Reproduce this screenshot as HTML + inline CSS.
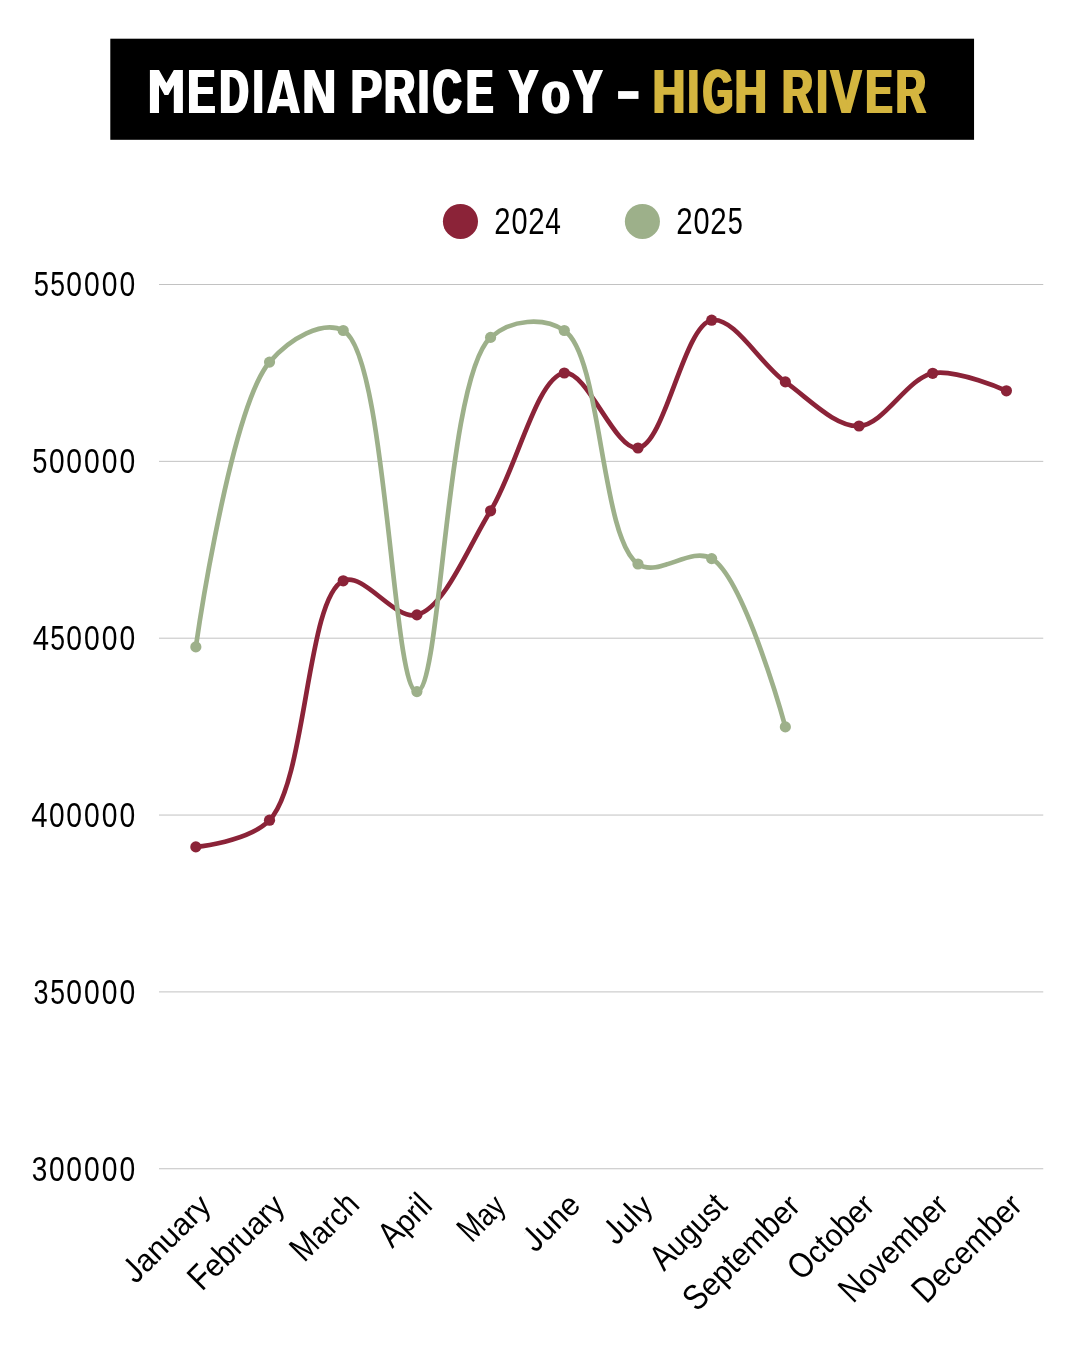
<!DOCTYPE html>
<html><head><meta charset="utf-8"><title>Median Price YoY - High River</title>
<style>html,body{margin:0;padding:0;background:#fff;}body{width:1080px;height:1350px;overflow:hidden;}svg{display:block;will-change:transform;}text{font-family:"Liberation Sans",sans-serif;}</style>
</head><body>
<svg width="1080" height="1350" viewBox="0 0 1080 1350">
<defs><filter id="idf" x="0" y="0" width="100%" height="100%" filterUnits="userSpaceOnUse" color-interpolation-filters="sRGB"><feOffset dx="0" dy="0"/></filter></defs>
<rect x="0" y="0" width="1080" height="1350" fill="#ffffff"/>
<g filter="url(#idf)">
<rect x="110.3" y="38.7" width="863.75" height="101.1" fill="#000000"/>
<path d="M149.9,113 L149.9,69.9 L159,69.9 L166.4,82.9 L173.8,69.9 L182.9,69.9 L182.9,113 L173.8,113 L173.8,85 L168.3,94.9 L164.5,94.9 L159,85 L159,113 Z" fill="#ffffff" fill-rule="evenodd"/>
<text transform="translate(186.34,113.00) scale(0.4089,0.6276)" font-size="100" font-weight="bold" fill="#ffffff">E</text>
<text transform="translate(187.84,113.00) scale(0.4089,0.6276)" font-size="100" font-weight="bold" fill="#ffffff">E</text>
<text transform="translate(189.34,113.00) scale(0.4089,0.6276)" font-size="100" font-weight="bold" fill="#ffffff">E</text>
<text transform="translate(218.21,113.00) scale(0.3984,0.6276)" font-size="100" font-weight="bold" fill="#ffffff">D</text>
<text transform="translate(219.71,113.00) scale(0.3984,0.6276)" font-size="100" font-weight="bold" fill="#ffffff">D</text>
<text transform="translate(221.21,113.00) scale(0.3984,0.6276)" font-size="100" font-weight="bold" fill="#ffffff">D</text>
<text transform="translate(250.56,113.00) scale(0.5544,0.6276)" font-size="100" font-weight="bold" fill="#ffffff">I</text>
<path d="M267.1,113 L278.3,69.9 L289,69.9 L300,113 L291,113 L289.2,106.25 L277.6,106.25 L275.8,113 Z M279.2,99 L283.55,80.8 L287.9,99 Z" fill="#ffffff" fill-rule="evenodd"/>
<text transform="translate(301.24,113.00) scale(0.4674,0.6276)" font-size="100" font-weight="bold" fill="#ffffff">N</text>
<text transform="translate(303.48,113.00) scale(0.4674,0.6276)" font-size="100" font-weight="bold" fill="#ffffff">N</text>
<text transform="translate(349.34,113.00) scale(0.4828,0.6276)" font-size="100" font-weight="bold" fill="#ffffff">P</text>
<text transform="translate(351.36,113.00) scale(0.4828,0.6276)" font-size="100" font-weight="bold" fill="#ffffff">P</text>
<text transform="translate(382.69,113.00) scale(0.4306,0.6276)" font-size="100" font-weight="bold" fill="#ffffff">R</text>
<text transform="translate(384.08,113.00) scale(0.4306,0.6276)" font-size="100" font-weight="bold" fill="#ffffff">R</text>
<text transform="translate(385.46,113.00) scale(0.4306,0.6276)" font-size="100" font-weight="bold" fill="#ffffff">R</text>
<text transform="translate(415.52,113.00) scale(0.5754,0.6276)" font-size="100" font-weight="bold" fill="#ffffff">I</text>
<text transform="translate(431.52,113.00) scale(0.3939,0.6276)" font-size="100" font-weight="bold" fill="#ffffff">C</text>
<text transform="translate(433.02,113.00) scale(0.3939,0.6276)" font-size="100" font-weight="bold" fill="#ffffff">C</text>
<text transform="translate(434.52,113.00) scale(0.3939,0.6276)" font-size="100" font-weight="bold" fill="#ffffff">C</text>
<text transform="translate(464.68,113.00) scale(0.4036,0.6276)" font-size="100" font-weight="bold" fill="#ffffff">E</text>
<text transform="translate(466.18,113.00) scale(0.4036,0.6276)" font-size="100" font-weight="bold" fill="#ffffff">E</text>
<text transform="translate(467.68,113.00) scale(0.4036,0.6276)" font-size="100" font-weight="bold" fill="#ffffff">E</text>
<text transform="translate(507.53,113.00) scale(0.4429,0.6276)" font-size="100" font-weight="bold" fill="#ffffff">Y</text>
<text transform="translate(508.82,113.00) scale(0.4429,0.6276)" font-size="100" font-weight="bold" fill="#ffffff">Y</text>
<text transform="translate(510.11,113.00) scale(0.4429,0.6276)" font-size="100" font-weight="bold" fill="#ffffff">Y</text>
<text transform="translate(540.32,113.10) scale(0.4692,0.5991)" font-size="100" font-weight="bold" fill="#ffffff">o</text>
<text transform="translate(542.54,113.10) scale(0.4692,0.5991)" font-size="100" font-weight="bold" fill="#ffffff">o</text>
<text transform="translate(571.83,113.00) scale(0.4388,0.6276)" font-size="100" font-weight="bold" fill="#ffffff">Y</text>
<text transform="translate(573.16,113.00) scale(0.4388,0.6276)" font-size="100" font-weight="bold" fill="#ffffff">Y</text>
<text transform="translate(574.48,113.00) scale(0.4388,0.6276)" font-size="100" font-weight="bold" fill="#ffffff">Y</text>
<rect x="618.10" y="91.10" width="20.40" height="7.80" fill="#ffffff"/>
<text transform="translate(651.57,113.00) scale(0.4494,0.6276)" font-size="100" font-weight="bold" fill="#D4B53F">H</text>
<text transform="translate(654.06,113.00) scale(0.4494,0.6276)" font-size="100" font-weight="bold" fill="#D4B53F">H</text>
<text transform="translate(685.37,113.00) scale(0.5825,0.6276)" font-size="100" font-weight="bold" fill="#D4B53F">I</text>
<text transform="translate(701.55,113.00) scale(0.3867,0.6276)" font-size="100" font-weight="bold" fill="#D4B53F">G</text>
<text transform="translate(703.05,113.00) scale(0.3867,0.6276)" font-size="100" font-weight="bold" fill="#D4B53F">G</text>
<text transform="translate(704.55,113.00) scale(0.3867,0.6276)" font-size="100" font-weight="bold" fill="#D4B53F">G</text>
<text transform="translate(733.50,113.00) scale(0.4449,0.6276)" font-size="100" font-weight="bold" fill="#D4B53F">H</text>
<text transform="translate(734.78,113.00) scale(0.4449,0.6276)" font-size="100" font-weight="bold" fill="#D4B53F">H</text>
<text transform="translate(736.06,113.00) scale(0.4449,0.6276)" font-size="100" font-weight="bold" fill="#D4B53F">H</text>
<text transform="translate(780.85,113.00) scale(0.4224,0.6276)" font-size="100" font-weight="bold" fill="#D4B53F">R</text>
<text transform="translate(782.29,113.00) scale(0.4224,0.6276)" font-size="100" font-weight="bold" fill="#D4B53F">R</text>
<text transform="translate(783.73,113.00) scale(0.4224,0.6276)" font-size="100" font-weight="bold" fill="#D4B53F">R</text>
<text transform="translate(814.07,113.00) scale(0.5825,0.6276)" font-size="100" font-weight="bold" fill="#D4B53F">I</text>
<text transform="translate(829.25,113.00) scale(0.4686,0.6276)" font-size="100" font-weight="bold" fill="#D4B53F">V</text>
<text transform="translate(831.47,113.00) scale(0.4686,0.6276)" font-size="100" font-weight="bold" fill="#D4B53F">V</text>
<text transform="translate(864.21,113.00) scale(0.3982,0.6276)" font-size="100" font-weight="bold" fill="#D4B53F">E</text>
<text transform="translate(865.71,113.00) scale(0.3982,0.6276)" font-size="100" font-weight="bold" fill="#D4B53F">E</text>
<text transform="translate(867.21,113.00) scale(0.3982,0.6276)" font-size="100" font-weight="bold" fill="#D4B53F">E</text>
<text transform="translate(894.39,113.00) scale(0.4163,0.6276)" font-size="100" font-weight="bold" fill="#D4B53F">R</text>
<text transform="translate(895.87,113.00) scale(0.4163,0.6276)" font-size="100" font-weight="bold" fill="#D4B53F">R</text>
<text transform="translate(897.36,113.00) scale(0.4163,0.6276)" font-size="100" font-weight="bold" fill="#D4B53F">R</text>
<circle cx="460.45" cy="221.45" r="17.55" fill="#8B2338"/>
<text transform="translate(494.34,234.25) scale(0.2923,0.3647)" font-size="100" fill="#000000">2</text>
<text transform="translate(511.44,234.25) scale(0.2890,0.3647)" font-size="100" fill="#000000">0</text>
<text transform="translate(528.33,234.25) scale(0.2945,0.3647)" font-size="100" fill="#000000">2</text>
<text transform="translate(545.27,234.25) scale(0.2812,0.3647)" font-size="100" fill="#000000">4</text>
<circle cx="642.4" cy="221.45" r="17.55" fill="#9DB08A"/>
<text transform="translate(676.33,234.25) scale(0.2945,0.3647)" font-size="100" fill="#000000">2</text>
<text transform="translate(693.44,234.25) scale(0.2890,0.3647)" font-size="100" fill="#000000">0</text>
<text transform="translate(710.33,234.25) scale(0.2945,0.3647)" font-size="100" fill="#000000">2</text>
<text transform="translate(727.81,234.25) scale(0.2716,0.3647)" font-size="100" fill="#000000">5</text>
<line x1="159.0" y1="284.5" x2="1043.25" y2="284.5" stroke="#c2c2c2" stroke-width="1"/>
<line x1="159.0" y1="461.35" x2="1043.25" y2="461.35" stroke="#c2c2c2" stroke-width="1"/>
<line x1="159.0" y1="638.2" x2="1043.25" y2="638.2" stroke="#c2c2c2" stroke-width="1"/>
<line x1="159.0" y1="815.05" x2="1043.25" y2="815.05" stroke="#c2c2c2" stroke-width="1"/>
<line x1="159.0" y1="991.9" x2="1043.25" y2="991.9" stroke="#c2c2c2" stroke-width="1"/>
<line x1="159.0" y1="1168.75" x2="1043.25" y2="1168.75" stroke="#c2c2c2" stroke-width="1"/>
<text transform="translate(33.81,295.85) scale(0.2737,0.3576)" font-size="100" fill="#000000">5</text>
<text transform="translate(50.24,295.85) scale(0.2653,0.3576)" font-size="100" fill="#000000">5</text>
<text transform="translate(66.37,295.85) scale(0.2827,0.3576)" font-size="100" fill="#000000">0</text>
<text transform="translate(84.07,295.85) scale(0.2827,0.3576)" font-size="100" fill="#000000">0</text>
<text transform="translate(101.82,295.85) scale(0.2827,0.3576)" font-size="100" fill="#000000">0</text>
<text transform="translate(119.57,295.85) scale(0.2827,0.3576)" font-size="100" fill="#000000">0</text>
<text transform="translate(32.21,472.85) scale(0.2737,0.3576)" font-size="100" fill="#000000">5</text>
<text transform="translate(48.88,472.85) scale(0.2806,0.3576)" font-size="100" fill="#000000">0</text>
<text transform="translate(66.37,472.85) scale(0.2827,0.3576)" font-size="100" fill="#000000">0</text>
<text transform="translate(84.07,472.85) scale(0.2827,0.3576)" font-size="100" fill="#000000">0</text>
<text transform="translate(101.82,472.85) scale(0.2827,0.3576)" font-size="100" fill="#000000">0</text>
<text transform="translate(119.57,472.85) scale(0.2827,0.3576)" font-size="100" fill="#000000">0</text>
<text transform="translate(32.64,649.85) scale(0.2931,0.3576)" font-size="100" fill="#000000">4</text>
<text transform="translate(50.24,649.85) scale(0.2653,0.3576)" font-size="100" fill="#000000">5</text>
<text transform="translate(66.37,649.85) scale(0.2827,0.3576)" font-size="100" fill="#000000">0</text>
<text transform="translate(84.07,649.85) scale(0.2827,0.3576)" font-size="100" fill="#000000">0</text>
<text transform="translate(101.82,649.85) scale(0.2827,0.3576)" font-size="100" fill="#000000">0</text>
<text transform="translate(119.57,649.85) scale(0.2827,0.3576)" font-size="100" fill="#000000">0</text>
<text transform="translate(31.24,826.85) scale(0.2931,0.3576)" font-size="100" fill="#000000">4</text>
<text transform="translate(48.88,826.85) scale(0.2806,0.3576)" font-size="100" fill="#000000">0</text>
<text transform="translate(66.37,826.85) scale(0.2827,0.3576)" font-size="100" fill="#000000">0</text>
<text transform="translate(84.07,826.85) scale(0.2827,0.3576)" font-size="100" fill="#000000">0</text>
<text transform="translate(101.82,826.85) scale(0.2827,0.3576)" font-size="100" fill="#000000">0</text>
<text transform="translate(119.57,826.85) scale(0.2827,0.3576)" font-size="100" fill="#000000">0</text>
<text transform="translate(33.39,1003.85) scale(0.2695,0.3576)" font-size="100" fill="#000000">3</text>
<text transform="translate(50.24,1003.85) scale(0.2653,0.3576)" font-size="100" fill="#000000">5</text>
<text transform="translate(66.37,1003.85) scale(0.2827,0.3576)" font-size="100" fill="#000000">0</text>
<text transform="translate(84.07,1003.85) scale(0.2827,0.3576)" font-size="100" fill="#000000">0</text>
<text transform="translate(101.82,1003.85) scale(0.2827,0.3576)" font-size="100" fill="#000000">0</text>
<text transform="translate(119.57,1003.85) scale(0.2827,0.3576)" font-size="100" fill="#000000">0</text>
<text transform="translate(31.75,1180.85) scale(0.2800,0.3576)" font-size="100" fill="#000000">3</text>
<text transform="translate(48.88,1180.85) scale(0.2806,0.3576)" font-size="100" fill="#000000">0</text>
<text transform="translate(66.37,1180.85) scale(0.2827,0.3576)" font-size="100" fill="#000000">0</text>
<text transform="translate(84.07,1180.85) scale(0.2827,0.3576)" font-size="100" fill="#000000">0</text>
<text transform="translate(101.82,1180.85) scale(0.2827,0.3576)" font-size="100" fill="#000000">0</text>
<text transform="translate(119.57,1180.85) scale(0.2827,0.3576)" font-size="100" fill="#000000">0</text>
<path d="M195.84,846.90C195.84,846.90,248.85,841.92,269.53,820.20C306.50,781.37,306.82,597.03,343.22,580.80C363.94,571.56,394.55,620.86,416.91,614.90C444.93,607.42,467.16,548.73,490.59,510.80C516.54,468.82,536.76,376.96,564.28,373.00C586.85,369.76,615.16,450.91,637.97,448.00C664.99,444.56,683.85,325.13,711.66,320.20C734.10,316.22,760.05,363.91,785.34,381.90C809.25,398.90,834.79,426.99,859.03,426.00C883.93,424.98,906.95,378.36,932.72,373.30C956.28,368.68,1006.41,390.80,1006.41,390.80" fill="none" stroke="#8B2338" stroke-width="4.7" stroke-linecap="round" stroke-linejoin="round"/>
<circle cx="195.84" cy="846.90" r="5.6" fill="#8B2338"/>
<circle cx="269.53" cy="820.20" r="5.6" fill="#8B2338"/>
<circle cx="343.22" cy="580.80" r="5.6" fill="#8B2338"/>
<circle cx="416.91" cy="614.90" r="5.6" fill="#8B2338"/>
<circle cx="490.59" cy="510.80" r="5.6" fill="#8B2338"/>
<circle cx="564.28" cy="373.00" r="5.6" fill="#8B2338"/>
<circle cx="637.97" cy="448.00" r="5.6" fill="#8B2338"/>
<circle cx="711.66" cy="320.20" r="5.6" fill="#8B2338"/>
<circle cx="785.34" cy="381.90" r="5.6" fill="#8B2338"/>
<circle cx="859.03" cy="426.00" r="5.6" fill="#8B2338"/>
<circle cx="932.72" cy="373.30" r="5.6" fill="#8B2338"/>
<circle cx="1006.41" cy="390.80" r="5.6" fill="#8B2338"/>
<path d="M195.84,646.90C195.84,646.90,230.19,407.92,269.53,362.10C290.07,338.18,322.82,319.83,343.22,330.50C386.94,353.38,392.23,691.55,416.91,691.60C441.36,691.65,445.55,377.67,490.59,337.40C510.97,319.19,543.64,316.80,564.28,330.50C601.82,355.41,600.40,538.52,637.97,564.00C658.61,578.00,690.58,545.90,711.66,558.60C744.89,578.63,785.34,726.90,785.34,726.90" fill="none" stroke="#9DB08A" stroke-width="4.7" stroke-linecap="round" stroke-linejoin="round"/>
<circle cx="195.84" cy="646.90" r="5.6" fill="#9DB08A"/>
<circle cx="269.53" cy="362.10" r="5.6" fill="#9DB08A"/>
<circle cx="343.22" cy="330.50" r="5.6" fill="#9DB08A"/>
<circle cx="416.91" cy="691.60" r="5.6" fill="#9DB08A"/>
<circle cx="490.59" cy="337.40" r="5.6" fill="#9DB08A"/>
<circle cx="564.28" cy="330.50" r="5.6" fill="#9DB08A"/>
<circle cx="637.97" cy="564.00" r="5.6" fill="#9DB08A"/>
<circle cx="711.66" cy="558.60" r="5.6" fill="#9DB08A"/>
<circle cx="785.34" cy="726.90" r="5.6" fill="#9DB08A"/>
<g transform="translate(135.76,1284.53) rotate(-45)">
<text transform="translate(-0.46,0) scale(0.3063,0.3578)" font-size="100" fill="#000000">J</text>
<rect transform="translate(-0.46,0) scale(0.3063,0.3578)" x="15" y="-72" width="18.1" height="11.6" fill="#ffffff"/>
<text transform="translate(14.86,0) scale(0.3063,0.3140)" font-size="100" fill="#000000">a</text>
<text transform="translate(31.90,0) scale(0.3063,0.3140)" font-size="100" fill="#000000">n</text>
<text transform="translate(48.93,0) scale(0.3063,0.3140)" font-size="100" fill="#000000">u</text>
<text transform="translate(65.97,0) scale(0.3063,0.3140)" font-size="100" fill="#000000">a</text>
<text transform="translate(83.01,0) scale(0.3063,0.3140)" font-size="100" fill="#000000">r</text>
<text transform="translate(93.21,0) scale(0.3063,0.3140)" font-size="100" fill="#000000">y</text>
</g>
<g transform="translate(203.72,1290.26) rotate(-45)">
<text transform="translate(-2.46,0) scale(0.2976,0.3578)" font-size="100" fill="#000000">F</text>
<text transform="translate(15.72,0) scale(0.2976,0.3140)" font-size="100" fill="#000000">e</text>
<text transform="translate(32.27,0) scale(0.2976,0.3434)" font-size="100" fill="#000000">b</text>
<text transform="translate(48.82,0) scale(0.2976,0.3140)" font-size="100" fill="#000000">r</text>
<text transform="translate(58.73,0) scale(0.2976,0.3140)" font-size="100" fill="#000000">u</text>
<text transform="translate(75.28,0) scale(0.2976,0.3140)" font-size="100" fill="#000000">a</text>
<text transform="translate(91.83,0) scale(0.2976,0.3140)" font-size="100" fill="#000000">r</text>
<text transform="translate(101.74,0) scale(0.2976,0.3140)" font-size="100" fill="#000000">y</text>
</g>
<g transform="translate(306.01,1261.66) rotate(-45)">
<text transform="translate(-2.39,0) scale(0.2896,0.3578)" font-size="100" fill="#000000">M</text>
<text transform="translate(21.73,0) scale(0.2896,0.3140)" font-size="100" fill="#000000">a</text>
<text transform="translate(37.84,0) scale(0.2896,0.3140)" font-size="100" fill="#000000">r</text>
<text transform="translate(47.48,0) scale(0.2896,0.3140)" font-size="100" fill="#000000">c</text>
<text transform="translate(61.96,0) scale(0.2896,0.3434)" font-size="100" fill="#000000">h</text>
</g>
<g transform="translate(392.31,1249.04) rotate(-45)">
<text transform="translate(-0.07,0) scale(0.2944,0.3578)" font-size="100" fill="#000000">A</text>
<text transform="translate(19.56,0) scale(0.2944,0.3140)" font-size="100" fill="#000000">p</text>
<text transform="translate(35.94,0) scale(0.2944,0.3140)" font-size="100" fill="#000000">r</text>
<text transform="translate(45.74,0) scale(0.2944,0.3434)" font-size="100" fill="#000000">i</text>
<text transform="translate(52.29,0) scale(0.2944,0.3434)" font-size="100" fill="#000000">l</text>
</g>
<g transform="translate(473.21,1241.84) rotate(-45)">
<text transform="translate(-2.19,0) scale(0.2655,0.3578)" font-size="100" fill="#000000">M</text>
<text transform="translate(19.93,0) scale(0.2655,0.3140)" font-size="100" fill="#000000">a</text>
<text transform="translate(34.69,0) scale(0.2655,0.3140)" font-size="100" fill="#000000">y</text>
</g>
<g transform="translate(535.58,1253.15) rotate(-45)">
<text transform="translate(-0.46,0) scale(0.3052,0.3578)" font-size="100" fill="#000000">J</text>
<rect transform="translate(-0.46,0) scale(0.3052,0.3578)" x="15" y="-72" width="18.1" height="11.6" fill="#ffffff"/>
<text transform="translate(14.80,0) scale(0.3052,0.3140)" font-size="100" fill="#000000">u</text>
<text transform="translate(31.78,0) scale(0.3052,0.3140)" font-size="100" fill="#000000">n</text>
<text transform="translate(48.76,0) scale(0.3052,0.3140)" font-size="100" fill="#000000">e</text>
</g>
<g transform="translate(616.41,1246.01) rotate(-45)">
<text transform="translate(-0.46,0) scale(0.3055,0.3578)" font-size="100" fill="#000000">J</text>
<rect transform="translate(-0.46,0) scale(0.3055,0.3578)" x="15" y="-72" width="18.1" height="11.6" fill="#ffffff"/>
<text transform="translate(14.82,0) scale(0.3055,0.3140)" font-size="100" fill="#000000">u</text>
<text transform="translate(31.81,0) scale(0.3055,0.3434)" font-size="100" fill="#000000">l</text>
<text transform="translate(38.60,0) scale(0.3055,0.3140)" font-size="100" fill="#000000">y</text>
</g>
<g transform="translate(664.14,1271.97) rotate(-45)">
<text transform="translate(-0.07,0) scale(0.2933,0.3578)" font-size="100" fill="#000000">A</text>
<text transform="translate(19.49,0) scale(0.2933,0.3140)" font-size="100" fill="#000000">u</text>
<text transform="translate(35.80,0) scale(0.2933,0.3140)" font-size="100" fill="#000000">g</text>
<text transform="translate(52.11,0) scale(0.2933,0.3140)" font-size="100" fill="#000000">u</text>
<text transform="translate(68.42,0) scale(0.2933,0.3140)" font-size="100" fill="#000000">s</text>
<text transform="translate(83.08,0) scale(0.2933,0.3434)" font-size="100" fill="#000000">t</text>
</g>
<g transform="translate(697.94,1311.85) rotate(-45)">
<text transform="translate(-1.37,0) scale(0.3035,0.3578)" font-size="100" fill="#000000">S</text>
<text transform="translate(18.87,0) scale(0.3035,0.3140)" font-size="100" fill="#000000">e</text>
<text transform="translate(35.75,0) scale(0.3035,0.3140)" font-size="100" fill="#000000">p</text>
<text transform="translate(52.63,0) scale(0.3035,0.3434)" font-size="100" fill="#000000">t</text>
<text transform="translate(61.06,0) scale(0.3035,0.3140)" font-size="100" fill="#000000">e</text>
<text transform="translate(77.93,0) scale(0.3035,0.3140)" font-size="100" fill="#000000">m</text>
<text transform="translate(103.21,0) scale(0.3035,0.3434)" font-size="100" fill="#000000">b</text>
<text transform="translate(120.09,0) scale(0.3035,0.3140)" font-size="100" fill="#000000">e</text>
<text transform="translate(136.97,0) scale(0.3035,0.3140)" font-size="100" fill="#000000">r</text>
</g>
<g transform="translate(802.67,1280.81) rotate(-45)">
<text transform="translate(-1.41,0) scale(0.2962,0.3578)" font-size="100" fill="#000000">O</text>
<text transform="translate(21.63,0) scale(0.2962,0.3140)" font-size="100" fill="#000000">c</text>
<text transform="translate(36.44,0) scale(0.2962,0.3434)" font-size="100" fill="#000000">t</text>
<text transform="translate(44.67,0) scale(0.2962,0.3140)" font-size="100" fill="#000000">o</text>
<text transform="translate(61.15,0) scale(0.2962,0.3434)" font-size="100" fill="#000000">b</text>
<text transform="translate(77.62,0) scale(0.2962,0.3140)" font-size="100" fill="#000000">e</text>
<text transform="translate(94.10,0) scale(0.2962,0.3140)" font-size="100" fill="#000000">r</text>
</g>
<g transform="translate(854.72,1302.46) rotate(-45)">
<text transform="translate(-2.45,0) scale(0.2972,0.3578)" font-size="100" fill="#000000">N</text>
<text transform="translate(19.01,0) scale(0.2972,0.3140)" font-size="100" fill="#000000">o</text>
<text transform="translate(35.55,0) scale(0.2972,0.3140)" font-size="100" fill="#000000">v</text>
<text transform="translate(50.41,0) scale(0.2972,0.3140)" font-size="100" fill="#000000">e</text>
<text transform="translate(66.94,0) scale(0.2972,0.3140)" font-size="100" fill="#000000">m</text>
<text transform="translate(91.70,0) scale(0.2972,0.3434)" font-size="100" fill="#000000">b</text>
<text transform="translate(108.23,0) scale(0.2972,0.3140)" font-size="100" fill="#000000">e</text>
<text transform="translate(124.76,0) scale(0.2972,0.3140)" font-size="100" fill="#000000">r</text>
</g>
<g transform="translate(927.98,1302.88) rotate(-45)">
<text transform="translate(-2.47,0) scale(0.2990,0.3578)" font-size="100" fill="#000000">D</text>
<text transform="translate(19.13,0) scale(0.2990,0.3140)" font-size="100" fill="#000000">e</text>
<text transform="translate(35.76,0) scale(0.2990,0.3140)" font-size="100" fill="#000000">c</text>
<text transform="translate(50.71,0) scale(0.2990,0.3140)" font-size="100" fill="#000000">e</text>
<text transform="translate(67.34,0) scale(0.2990,0.3140)" font-size="100" fill="#000000">m</text>
<text transform="translate(92.25,0) scale(0.2990,0.3434)" font-size="100" fill="#000000">b</text>
<text transform="translate(108.88,0) scale(0.2990,0.3140)" font-size="100" fill="#000000">e</text>
<text transform="translate(125.51,0) scale(0.2990,0.3140)" font-size="100" fill="#000000">r</text>
</g>
</g></svg></body></html>
